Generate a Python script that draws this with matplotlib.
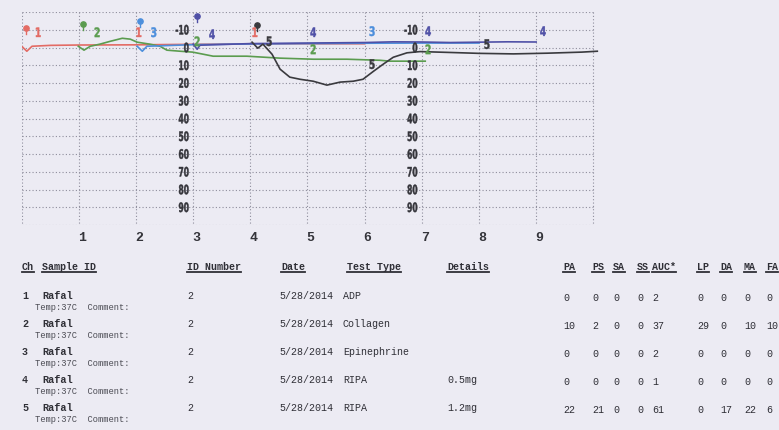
import matplotlib
matplotlib.use("Agg")
import matplotlib.pyplot as plt
import matplotlib.transforms as mtransforms
from matplotlib.font_manager import FontProperties
from matplotlib.patches import PathPatch
from matplotlib.textpath import TextPath

# aggregation traces (time in minutes, aggregation in %)
ch1_t = [0.0, 0.09, 0.18, 0.5, 1.0, 2.0, 3.0, 4.0, 5.0, 6.0]
ch1_v = [-0.7, 2.1, -0.7, -1.2, -1.4, -1.5, -1.8, -2.0, -2.1, -2.1]

ch2_t = [0.99, 1.09, 1.2, 1.37, 1.55, 1.76, 1.9, 2.02, 2.24, 2.42, 2.54, 2.77,
         2.99, 3.35, 3.94, 4.52, 5.1, 5.69, 6.27, 6.44, 7.06]
ch2_v = [-0.7, 1.5, -0.7, -1.9, -3.5, -5.2, -4.7, -3.0, -1.9, -0.7, 1.5, 2.1,
         2.6, 4.9, 4.9, 6.0, 6.6, 6.6, 7.2, 7.7, 7.7]

ch3_t = [2.02, 2.11, 2.19, 3.0, 4.0, 5.0, 6.0, 7.0, 8.0]
ch3_v = [-0.7, 2.1, -0.7, -1.6, -2.0, -2.2, -2.4, -2.5, -2.5]

ch4_t = [3.0, 3.07, 3.12, 4.0, 5.0, 6.0, 6.5, 7.0, 7.5, 8.0, 8.5, 9.0]
ch4_v = [-1.9, 1.0, -1.3, -2.2, -2.5, -2.8, -3.2, -3.1, -2.8, -3.0, -3.2, -3.1]

ch5_t = [4.03, 4.13, 4.22, 4.38, 4.52, 4.69, 4.87, 5.1, 5.34, 5.57, 5.8, 5.97,
         6.15, 6.32, 6.5, 6.74, 6.97, 7.5, 8.0, 8.6, 9.2, 9.8, 10.07]
ch5_v = [-3.0, 0.4, -1.9, 3.8, 12.2, 16.7, 17.9, 19.0, 21.2, 19.5, 19.0, 17.9,
         13.5, 9.5, 5.5, 3.0, 2.3, 2.8, 3.3, 3.6, 3.2, 2.6, 2.1]

# channel number tags along each trace (time, value)
ch1_tags = [(0.29, -8.6), (2.05, -8.6), (4.08, -8.6)]
ch2_tags = [(1.32, -8.6), (3.07, -3.5), (5.1, 1.0), (7.11, 1.0)]
ch3_tags = [(2.31, -8.6), (6.13, -9.2)]
ch4_tags = [(3.33, -7.5), (5.1, -8.6), (7.11, -9.2), (9.12, -9.2)]
ch5_tags = [(4.33, -3.5), (6.13, 9.4), (8.14, -1.9)]

# start pins (time, value)
pins = [(0.08, -10.9), (1.07, -13.1), (2.07, -14.8), (3.07, -17.6), (4.12, -12.6)]

colors = ["#e36b64", "#5b9c4f", "#4d8fdc", "#4f50a6", "#3a3a3e"]

# results table
channels = ["1", "2", "3", "4", "5"]
sample_ids = ["Rafal", "Rafal", "Rafal", "Rafal", "Rafal"]
id_numbers = ["2", "2", "2", "2", "2"]
dates = ["5/28/2014"] * 5
test_types = ["ADP", "Collagen", "Epinephrine", "RIPA", "RIPA"]
details = ["", "", "", "0.5mg", "1.2mg"]
result_names = ["PA", "PS", "SA", "SS", "AUC*", "LP", "DA", "MA", "FA"]
pa = [0, 10, 0, 0, 22]
ps = [0, 2, 0, 0, 21]
sa = [0, 0, 0, 0, 0]
ss = [0, 0, 0, 0, 0]
auc = [2, 37, 2, 1, 61]
lp = [0, 29, 0, 0, 0]
da = [0, 0, 0, 0, 17]
ma = [0, 10, 0, 0, 22]
fa = [0, 10, 0, 0, 6]

W, H = 779, 431
bg = "#ecebf3"
ink = "#2f2f36"
grid_c = "#8e8d9c"
mono = ["Liberation Mono", "DejaVu Sans Mono"]
bold_prop = FontProperties(family="DejaVu Sans", weight="bold")

fig = plt.figure(figsize=(W / 100, H / 100), dpi=100, facecolor=bg)

# page axes in pixel units for the printed table
page = fig.add_axes([0, 0, 1, 1])
page.set_xlim(0, W)
page.set_ylim(H, 0)
page.axis("off")

# chart axes: 57.16 px per minute, 17.75 px per 10 %
x0, px_min = 21.7, 57.16
y_top, y_bot = 13, 226
tmax = 10.1
ax = fig.add_axes([x0 / W, 1 - y_bot / H, tmax * px_min / W, (y_bot - y_top) / H])
ax.set_facecolor("none")
ax.set_xlim(0, tmax)
ax.set_ylim(100, -20)
ax.axis("off")


def narrow_text(t, v, s, color, ha="center", size=13, sx=0.58, z=6):
    # condensed bold digits like the printer font, drawn in display pixels
    x, y = ax.transData.transform((t, v))
    tp = TextPath((0, 0), s, size=size, prop=bold_prop)
    bb = tp.get_extents()
    if ha == "right":
        dx = x - bb.x1 * sx
    else:
        dx = x - (bb.x0 + bb.width / 2) * sx
    dy = y - (bb.y0 + bb.height / 2)
    path = mtransforms.Affine2D().scale(sx, 1).translate(dx, dy).transform_path(tp)
    fig.add_artist(PathPatch(path, facecolor=color, edgecolor=color, lw=0.3,
                             transform=mtransforms.IdentityTransform(), zorder=z))


for t in range(11):
    ax.vlines(t, -20, 100, colors=grid_c, linestyles=(0, (1, 2)), lw=0.8, zorder=1)
for v in range(-20, 101, 10):
    ax.hlines(v, 0, 10, colors=grid_c, linestyles=(0, (1, 2)), lw=0.8, zorder=1)

for tx in (2.92, 6.92):
    for v in range(-10, 100, 10):
        narrow_text(tx, v, str(v), "#34343a", ha="right")

trans = mtransforms.blended_transform_factory(ax.transData, ax.transAxes)
for i in range(1, 10):
    ax.text(i + 0.05, -0.055, str(i), transform=trans, ha="center", va="center",
            fontsize=9.5, fontweight="bold", family=mono, color="#34343a")

traces = [(ch1_t, ch1_v), (ch2_t, ch2_v), (ch3_t, ch3_v), (ch4_t, ch4_v), (ch5_t, ch5_v)]
tags = [ch1_tags, ch2_tags, ch3_tags, ch4_tags, ch5_tags]
for k, (tt, vv) in enumerate(traces):
    ax.plot(tt, vv, color=colors[k], lw=1.2, zorder=2 + k * 0.1)
    for (lt, lv) in tags[k]:
        narrow_text(lt, lv, channels[k], colors[k], size=13, sx=0.7)
    pt, pv = pins[k]
    ax.plot([pt, pt], [pv, pv + 3.5], color=colors[k], lw=1.0, zorder=5)
    ax.plot(pt, pv, "o", color=colors[k], ms=3.8, zorder=5)

# table
head_y = 267
row_y = [296, 324, 352, 380, 408]
res_x = [563, 592, 613, 637, 652, 697, 720, 744, 766]
res_vals = [pa, ps, sa, ss, auc, lp, da, ma, fa]
headers = [("Ch", 22), ("Sample ID", 42), ("ID Number", 187), ("Date", 281),
           ("Test Type", 347), ("Details", 447)] + list(zip(result_names, res_x))

head_texts = []
for name, hx in headers:
    head_texts.append(page.text(hx, head_y, name, fontsize=7.2, family=mono,
                                fontweight="bold", color=ink, va="center", ha="left"))

for i in range(5):
    y = row_y[i]
    page.text(22, y, channels[i], fontsize=7.2, family=mono, fontweight="bold", color=ink, va="center")
    page.text(42, y, sample_ids[i], fontsize=7.4, family=mono, fontweight="bold", color=ink, va="center")
    page.text(35, y + 12, "Temp:37C  Comment:", fontsize=6.3, family=mono, color="#4c4c54", va="center")
    page.text(187, y, id_numbers[i], fontsize=7.2, family=mono, color=ink, va="center")
    page.text(279, y, dates[i], fontsize=7.2, family=mono, color=ink, va="center")
    page.text(343, y, test_types[i], fontsize=7.2, family=mono, color=ink, va="center")
    page.text(447, y, details[i], fontsize=7.2, family=mono, color=ink, va="center")
    for col, cx in zip(res_vals, res_x):
        page.text(cx, y + 2, str(col[i]), fontsize=7.2, family=mono, color=ink, va="center")

# underline the headers
fig.canvas.draw()
inv = page.transData.inverted()
for t in head_texts:
    bb = t.get_window_extent()
    (xa, _), (xb, _) = inv.transform([(bb.x0, bb.y0), (bb.x1, bb.y0)])
    page.plot([xa, xb], [head_y + 6, head_y + 6], color=ink, lw=1.3)

fig.savefig("out.png", dpi=100, facecolor=bg)
